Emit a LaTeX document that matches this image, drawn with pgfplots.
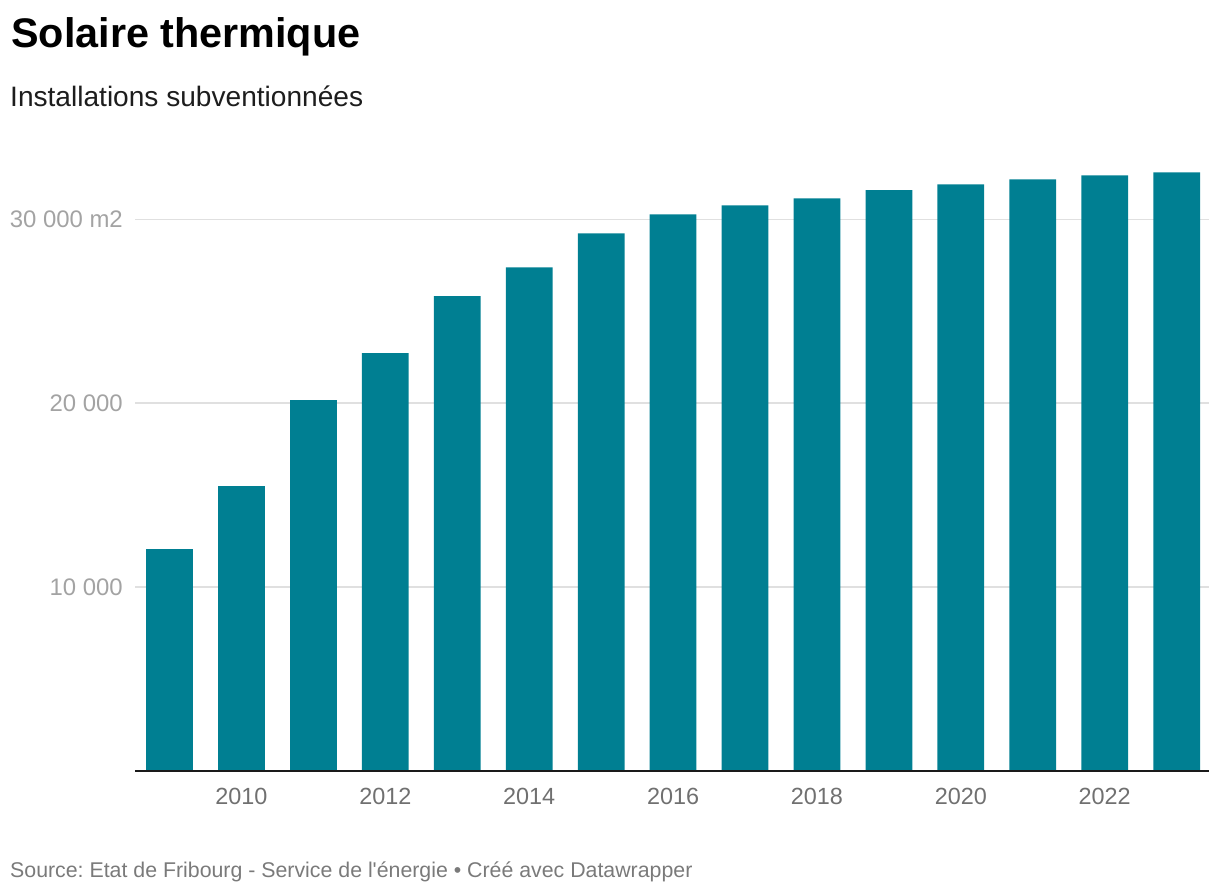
\documentclass[border=0pt]{standalone}
\usepackage{pgfplots}
\pgfplotsset{compat=1.18}
\usepackage{fontspec}
\setmainfont{Liberation Sans}
\newfontfamily\plainfont{Liberation Sans}
\frenchspacing
\definecolor{barc}{HTML}{007F92}
\definecolor{gridc}{HTML}{E0E0E0}
\definecolor{ytc}{HTML}{A3A3A3}
\definecolor{xtc}{HTML}{707070}
\definecolor{srcc}{HTML}{7A7A7A}
\definecolor{subc}{HTML}{1D1D1D}
\definecolor{axc}{HTML}{1A1A1A}
\begin{document}
\begin{tikzpicture}
\path[use as bounding box] (0bp,0bp) rectangle (1220bp,-894bp);
\node[anchor=base west, inner sep=0] at (11bp,-47bp) {\fontsize{41.5}{48}\selectfont\bfseries Solaire thermique};
\node[anchor=base west, inner sep=0, text=subc] at (10bp,-106bp) {\fontsize{28.2}{32}\selectfont Installations subventionnées};
\node[anchor=base west, inner sep=0, text=srcc] at (10bp,-877bp) {\plainfont\frenchspacing\fontsize{21.4}{24}\selectfont Source: Etat de Fribourg - Service de l'énergie • Créé avec Datawrapper};
\begin{axis}[
  at={(135bp,-771bp)}, anchor=south west,
  scale only axis, width=1074bp, height=606.9bp,
  xmin=2008.52, xmax=2023.45, ymin=0, ymax=33000,
  clip=false,
  scaled y ticks=false, scaled x ticks=false,
  axis line style={draw=none},
  major tick length=0,
  ytick={10000,20000,30000},
  yticklabels={10 000,20 000,30 000 m2},
  xtick={2010,2012,2014,2016,2018,2020,2022},
  xticklabels={2010,2012,2014,2016,2018,2020,2022},
  ymajorgrids, xmajorgrids=false,
  major grid style={color=gridc, line width=1.5bp},
  yticklabel style={anchor=east, inner sep=0, xshift=-12bp, text=ytc, font=\fontsize{24}{28}\selectfont},
  xticklabel style={anchor=north, inner sep=0, yshift=-17bp, text=xtc, font=\fontsize{23.5}{28}\selectfont},
]
\addplot[ybar, fill=barc, draw=none, bar width=0.65] coordinates {
(2009,12070) (2010,15490) (2011,20170) (2012,22720) (2013,25820)
(2014,27390) (2015,29240) (2016,30270) (2017,30760) (2018,31140)
(2019,31580) (2020,31900) (2021,32170) (2022,32390) (2023,32550)
};
\draw[axc, line width=2.2bp] (axis cs:2008.52,0) -- (axis cs:2023.45,0);
\end{axis}
\end{tikzpicture}
\end{document}
